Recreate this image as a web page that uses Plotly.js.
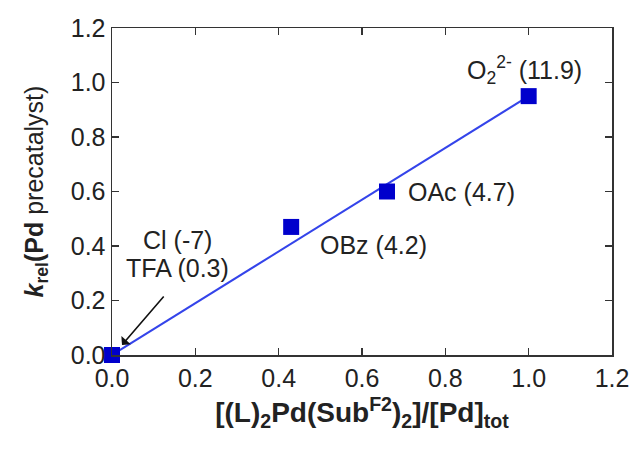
<!DOCTYPE html>
<html>
<head>
<meta charset="utf-8">
<script src="https://cdn.plot.ly/plotly-3.0.1.min.js"></script>
<style>html,body{margin:0;padding:0;background:#fff;}#chart{width:643px;height:458px;}</style>
</head>
<body>
<div id="chart"></div>
<script>
// data
const fractionX = [0.0, 0.43, 0.66, 1.0];
const kRel = [0.0, 0.47, 0.60, 0.95];
const fitX = [0.0, 1.0];
const fitY = [0.0, 0.95];
const labelText = ["O<sub>2</sub><sup>2-</sup> (11.9)", "OAc (4.7)", "OBz (4.2)", "Cl (-7)", "TFA (0.3)"];
const labelX = [0.99, 0.66, 0.494, 0.158, 0.158];
const labelY = [1.046, 0.60, 0.404, 0.422, 0.319];
const tickVals = [0, 0.2, 0.4, 0.6, 0.8, 1.0, 1.2];

const font = "Liberation Sans, Arial, Helvetica, sans-serif";

const traces = [
  {x: fitX, y: fitY, mode: "lines", line: {color: "#3444ea", width: 2}, hoverinfo: "skip", showlegend: false, cliponaxis: false},
  {x: fractionX, y: kRel, mode: "markers", marker: {symbol: "square", size: 16, color: "#0000cc"}, showlegend: false, cliponaxis: false}
];

const annotations = [
  {x: labelX[0], y: labelY[0], text: labelText[0], showarrow: false, xanchor: "center", yanchor: "middle"},
  {x: labelX[1], y: labelY[1], text: labelText[1], showarrow: false, xanchor: "left", yanchor: "middle", xshift: 19},
  {x: labelX[2], y: labelY[2], text: labelText[2], showarrow: false, xanchor: "left", yanchor: "middle"},
  {x: labelX[3], y: labelY[3], text: labelText[3], showarrow: false, xanchor: "center", yanchor: "middle"},
  {x: labelX[4], y: labelY[4], text: labelText[4], showarrow: false, xanchor: "center", yanchor: "middle"},
  {x: 0.024, y: 0.037, text: "", showarrow: true, ax: 43, ay: -50, arrowhead: 1, arrowsize: 1.3, arrowwidth: 1.6, arrowcolor: "#111"}
].map(a => Object.assign({font: {family: font, size: 25, color: "#222"}}, a));

const axisCommon = {
  tickvals: tickVals, tickformat: ".1f", range: [0, 1.2],
  ticks: "inside", ticklen: 7, tickwidth: 1.2, tickcolor: "#333",
  showline: true, linecolor: "#333", linewidth: 1.5, mirror: "ticks",
  showgrid: false, zeroline: false,
  tickfont: {family: font, size: 25, color: "#222"}
};

const layout = {
  width: 643, height: 458,
  margin: {l: 112, r: 31, t: 28, b: 103},
  paper_bgcolor: "#fff", plot_bgcolor: "#fff",
  xaxis: Object.assign({}, axisCommon, {
    title: {text: "<b>[(L)<sub>2</sub>Pd(Sub<sup>F2</sup>)<sub>2</sub>]/[Pd]<sub>tot</sub></b>", font: {family: font, size: 28, color: "#222"}, standoff: 12}
  }),
  yaxis: Object.assign({}, axisCommon, {
    title: {text: "<b><i>k</i><sub>rel</sub>(Pd</b> precatalyst)", font: {family: font, size: 25, color: "#222"}, standoff: 20}
  }),
  annotations: annotations
};

Plotly.newPlot("chart", traces, layout, {displayModeBar: false, staticPlot: true});
</script>
</body>
</html>
